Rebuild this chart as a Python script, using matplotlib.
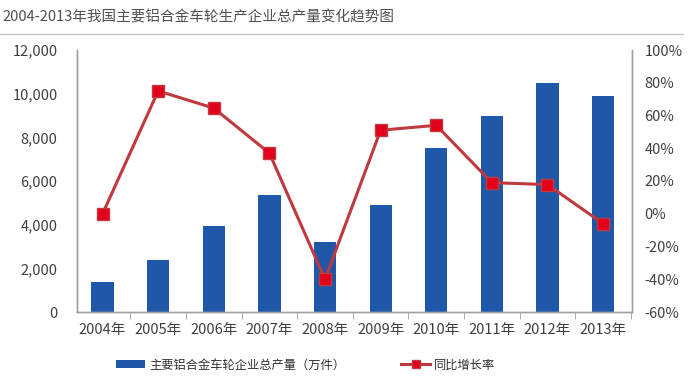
import matplotlib
matplotlib.use("Agg")
import matplotlib.pyplot as plt
from matplotlib.ticker import FuncFormatter, FixedLocator

plt.rcParams['font.family'] = ['Noto Sans CJK SC', 'DejaVu Sans']

years = ['2004年', '2005年', '2006年', '2007年', '2008年',
         '2009年', '2010年', '2011年', '2012年', '2013年']
output = [1380, 2390, 3950, 5380, 3220, 4890, 7530, 8960, 10490, 9900]
growth = [0.0, 75.0, 64.5, 37.0, -40.0, 51.0, 54.0, 19.0, 17.8, -6.0]

title = '2004-2013年我国主要铝合金车轮生产企业总产量变化趋势图'
bar_label = '主要铝合金车轮企业总产量（万件）'
line_label = '同比增长率'

fig = plt.figure(figsize=(6.9, 3.85), dpi=100)
ax = fig.add_axes([77 / 690, 1 - 312 / 385, (632 - 77) / 690, (312 - 50) / 385])
ax2 = ax.twinx()

x = range(len(years))
bars = ax.bar(x, output, width=0.4, color='#1f58a8', zorder=2, label=bar_label)
line, = ax2.plot(x, growth, color='#c0393f', lw=2.2, marker='s', markersize=8,
                 markerfacecolor='#e3001b', markeredgecolor='#c0393f', label=line_label)

ax.set_xlim(-0.46, len(years) - 0.48)
ax.set_ylim(0, 12000)
ax.set_yticks(range(0, 12001, 2000))
ax.yaxis.set_major_formatter(FuncFormatter(lambda v, p: f'{int(v):,}'))
ax2.set_ylim(-60, 100)
ax2.set_yticks(range(-60, 101, 20))
ax2.yaxis.set_major_formatter(FuncFormatter(lambda v, p: f'{int(v)}%'))

ax.set_xticks(list(x))
ax.set_xticklabels(years)
ax.xaxis.set_minor_locator(FixedLocator([i - 0.5 for i in range(len(years) + 1)]))
ax.tick_params(axis='x', which='major', length=0, pad=8, labelsize=10.5, labelcolor='#404040')
ax.tick_params(axis='x', which='minor', length=5, color='#a0a0a0', direction='out')
ax.tick_params(axis='y', length=0, pad=14, labelsize=10.5, labelcolor='#404040')
ax2.tick_params(axis='y', length=0, pad=9, labelsize=10.5, labelcolor='#404040')

for a in (ax, ax2):
    a.spines['top'].set_visible(False)
    for s in ('left', 'right', 'bottom'):
        a.spines[s].set_color('#a0a0a0')
        a.spines[s].set_linewidth(1)

fig.text(0.004, 0.955, title, fontsize=10.5, color='#505050', ha='left', va='center')
fig.add_artist(plt.Line2D([0, 0.99], [0.912, 0.912], color='#c8c8c8', lw=1))

fig.legend([bars, line], [bar_label, line_label], loc='center', ncol=2,
           bbox_to_anchor=(0.443, 0.052), frameon=False, fontsize=8.8,
           columnspacing=4.6, handlelength=2.4, handletextpad=0.3,
           labelcolor='#303030', markerscale=0.8)

fig.savefig('out.png', dpi=100)
